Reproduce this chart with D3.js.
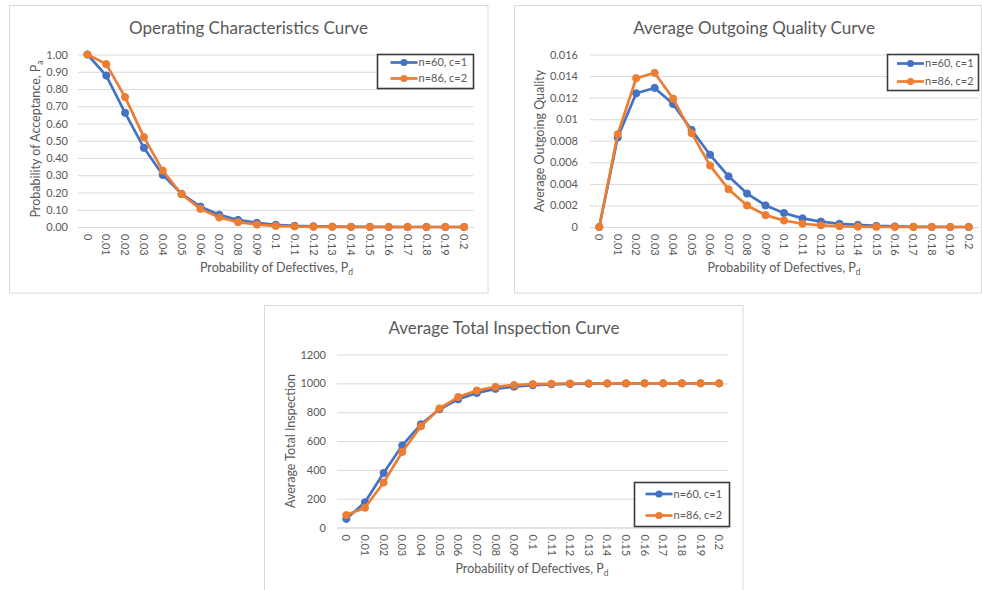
<!DOCTYPE html>
<html>
<head>
<meta charset="utf-8">
<script src="https://cdn.jsdelivr.net/npm/d3@7"></script>
<style>
  html, body { margin: 0; padding: 0; background: #fff; }
  svg { display: block; font-family: Lato, "Open Sans", sans-serif; }
</style>
</head>
<body>
<svg id="chart" width="982" height="590"></svg>
<script>
// Sampling plans compared: (n=60, c=1) and (n=86, c=2), lot size 1000
const defectRates = ["0", "0.01", "0.02", "0.03", "0.04", "0.05", "0.06", "0.07", "0.08", "0.09",
  "0.1", "0.11", "0.12", "0.13", "0.14", "0.15", "0.16", "0.17", "0.18", "0.19", "0.2"];
const planNames = ["n=60, c=1", "n=86, c=2"];

// Probability of acceptance
const ocPlanA = [1.000, 0.878, 0.662, 0.459, 0.302, 0.192, 0.118, 0.071, 0.041, 0.024,
  0.013, 0.007, 0.004, 0.002, 0.001, 0.001, 0.000, 0.000, 0.000, 0.000, 0.000];
const ocPlanB = [1.000, 0.944, 0.753, 0.521, 0.327, 0.190, 0.105, 0.055, 0.028, 0.014,
  0.006, 0.003, 0.001, 0.001, 0.000, 0.000, 0.000, 0.000, 0.000, 0.000, 0.000];

// Average outgoing quality
const aoqPlanA = [0, 0.0083, 0.0124, 0.0129, 0.0114, 0.0090, 0.0067, 0.0047, 0.0031, 0.0020,
  0.0013, 0.0008, 0.0005, 0.0003, 0.0002, 0.0001, 0.00005, 0.00002, 0.00001, 0, 0];
const aoqPlanB = [0, 0.0086, 0.0138, 0.0143, 0.0119, 0.0087, 0.0057, 0.0035, 0.0020, 0.0011,
  0.0006, 0.0003, 0.00015, 0.00007, 0.00003, 0.00001, 0, 0, 0, 0, 0];

// Average total inspection
const atiPlanA = [60, 175, 378, 569, 716, 820, 889, 933, 962, 977,
  987, 993, 996, 998, 999, 999, 1000, 1000, 1000, 1000, 1000];
const atiPlanB = [86, 137, 312, 524, 702, 826, 905, 950, 975, 988,
  994, 997, 999, 999, 1000, 1000, 1000, 1000, 1000, 1000, 1000];

// Value-axis tick labels
const ocTicks = ["0.00", "0.10", "0.20", "0.30", "0.40", "0.50", "0.60", "0.70", "0.80", "0.90", "1.00"];
const aoqTicks = ["0", "0.002", "0.004", "0.006", "0.008", "0.01", "0.012", "0.014", "0.016"];
const atiTicks = ["0", "200", "400", "600", "800", "1000", "1200"];

const colors = ["#4472C4", "#ED7D31"];
const textColor = "#595959";
const gridColor = "#D9D9D9";

const svg = d3.select("#chart");

function drawPanel(cfg) {
  const g = svg.append("g");

  // chart area frame
  g.append("rect")
    .attr("x", cfg.box[0]).attr("y", cfg.box[1])
    .attr("width", cfg.box[2]).attr("height", cfg.box[3])
    .attr("fill", "#fff").attr("stroke", gridColor).attr("stroke-width", 1);

  const [left, top, right, bottom] = cfg.plot;
  const tickVals = cfg.ticks.map(Number);

  const x = d3.scaleBand().domain(defectRates).range([left, right]);
  const y = d3.scaleLinear().domain([0, d3.max(tickVals)]).range([bottom, top]);
  const cx = d => x(d) + x.bandwidth() / 2;

  // value axis with gridlines
  const yAxis = g.append("g")
    .attr("transform", `translate(${left},0)`)
    .call(d3.axisLeft(y).tickValues(tickVals)
      .tickFormat((d, i) => cfg.ticks[i])
      .tickSize(-(right - left)).tickPadding(cfg.yPad));
  yAxis.select(".domain").remove();
  yAxis.selectAll(".tick line").attr("stroke", gridColor).attr("stroke-width", 1);
  yAxis.selectAll(".tick text")
    .attr("fill", textColor).attr("font-size", 11).attr("font-family", "Lato");

  // category axis
  const xAxis = g.append("g")
    .attr("transform", `translate(0,${bottom})`)
    .call(d3.axisBottom(x).tickSize(0).tickSizeOuter(0));
  xAxis.select(".domain").attr("stroke", gridColor);
  xAxis.selectAll(".tick text")
    .attr("fill", textColor).attr("font-size", 11).attr("font-family", "Lato")
    .attr("transform", "rotate(90)")
    .attr("text-anchor", "start")
    .attr("x", 7).attr("y", 0).attr("dy", "0.35em");

  // series lines and markers
  cfg.series.forEach((vals, si) => {
    const pts = defectRates.map((d, i) => [cx(d), y(vals[i])]);
    g.append("path")
      .attr("d", d3.line()(pts))
      .attr("fill", "none").attr("stroke", colors[si])
      .attr("stroke-width", 2.7).attr("stroke-linejoin", "round");
    g.append("g").selectAll("circle").data(pts).join("circle")
      .attr("cx", p => p[0]).attr("cy", p => p[1]).attr("r", 3.6)
      .attr("fill", colors[si]).attr("stroke", colors[si]);
  });

  // chart title
  g.append("text")
    .attr("x", cfg.title[1]).attr("y", cfg.title[2])
    .attr("text-anchor", "middle").attr("fill", textColor)
    .attr("font-size", 17).text(cfg.title[0]);

  // value-axis title
  const yt = g.append("text")
    .attr("transform", `translate(${cfg.yTitle[1]},${cfg.yTitle[2]}) rotate(-90)`)
    .attr("text-anchor", "middle").attr("fill", textColor).attr("font-size", 12.5);
  yt.append("tspan").text(cfg.yTitle[0]);
  if (cfg.yTitle[3]) {
    yt.append("tspan").attr("font-size", 8.5).attr("dy", 3).text(cfg.yTitle[3]);
  }

  // category-axis title
  const xt = g.append("text")
    .attr("x", cfg.xTitle[0]).attr("y", cfg.xTitle[1])
    .attr("text-anchor", "middle").attr("fill", textColor).attr("font-size", 12.5);
  xt.append("tspan").text("Probability of Defectives,  P");
  xt.append("tspan").attr("font-size", 8.5).attr("dy", 3).text("d");

  // legend
  const [lx, ly, lw, lh, row1, row2, inset] = cfg.legend;
  const lg = g.append("g");
  lg.append("rect").attr("x", lx).attr("y", ly).attr("width", lw).attr("height", lh)
    .attr("fill", "#fff").attr("stroke", "#3a3a3a").attr("stroke-width", 1.6);
  [row1, row2].forEach((ry, i) => {
    const x0 = lx + inset, x1 = lx + inset + 27;
    lg.append("line").attr("x1", x0).attr("x2", x1).attr("y1", ry).attr("y2", ry)
      .attr("stroke", colors[i]).attr("stroke-width", 2.7);
    lg.append("circle").attr("cx", (x0 + x1) / 2).attr("cy", ry).attr("r", 3.6)
      .attr("fill", colors[i]);
    lg.append("text").attr("x", x1 + 1).attr("y", ry).attr("dy", "0.35em")
      .attr("fill", textColor).attr("font-size", 11).text(planNames[i]);
  });
}

drawPanel({
  box: [9.5, 5.5, 478.5, 287.5],
  plot: [78, 54.5, 473.5, 227],
  ticks: ocTicks, yPad: 10,
  series: [ocPlanA, ocPlanB],
  title: ["Operating Characteristics Curve", 248.5, 33.5],
  yTitle: ["Probability of Acceptance, P", 40, 139, "a"],
  xTitle: [276.5, 272],
  legend: [377.5, 54.5, 96, 34, 62.5, 78.5, 13]
});

drawPanel({
  box: [514.5, 5.5, 467, 287.5],
  plot: [590, 54.5, 978, 227],
  ticks: aoqTicks, yPad: 12,
  series: [aoqPlanA, aoqPlanB],
  title: ["Average Outgoing Quality Curve", 754, 33.5],
  yTitle: ["Average Outgoing Quality", 544, 141],
  xTitle: [784, 272],
  legend: [887.5, 54.5, 91, 36, 63.5, 81.5, 9.5]
});

drawPanel({
  box: [264.5, 305.5, 478.5, 290],
  plot: [337, 354.5, 728.5, 527.5],
  ticks: atiTicks, yPad: 11,
  series: [atiPlanA, atiPlanB],
  title: ["Average Total Inspection Curve", 504, 333.5],
  yTitle: ["Average Total Inspection", 295, 441],
  xTitle: [532, 572.5],
  legend: [634.5, 482.5, 95, 44, 494, 515.5, 11]
});
</script>
</body>
</html>
